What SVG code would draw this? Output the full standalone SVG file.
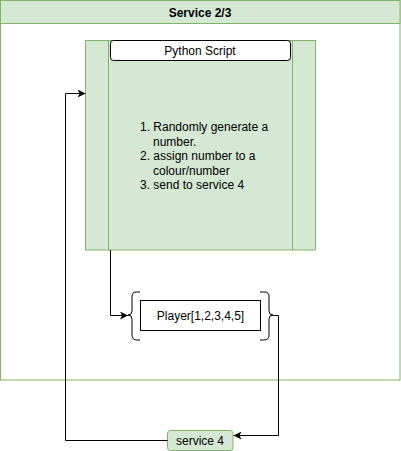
<svg xmlns="http://www.w3.org/2000/svg" width="401" height="451" viewBox="0 0 401 451">
<style>
.green{fill:#d5e8d4;stroke:#82b366;stroke-width:1}
.wbox{fill:#ffffff;stroke:#000000;stroke-width:1}
.t{font-family:"Liberation Sans",Arial,sans-serif;font-size:12px;fill:#000000}
.c{text-anchor:middle}
.edge{fill:none;stroke:#000000;stroke-width:1}
.br{fill:none;stroke:#000000;stroke-width:1}
</style>
<defs>
<marker id="arr" viewBox="0 0 10 10" refX="10" refY="5" markerWidth="8" markerHeight="8" markerUnits="userSpaceOnUse" orient="auto">
<path d="M0,0 L10,5 L0,10 L2.5,5 Z" fill="#000000"/>
</marker>
</defs>
<g id="service23">
<rect x="0.5" y="0.5" width="399.5" height="379.5" fill="#ffffff" stroke="#82b366"/>
<rect class="green" x="0.5" y="0.5" width="399.5" height="23"/>
<text class="t c" x="200" y="16.5" font-weight="bold">Service 2/3</text>
</g>
<g id="process">
<rect class="green" x="85.5" y="40.5" width="230" height="209.5"/>
<line x1="108.5" y1="40.5" x2="108.5" y2="250" stroke="#82b366"/>
<line x1="292.5" y1="40.5" x2="292.5" y2="250" stroke="#82b366"/>
<text class="t" x="140" y="131">1. Randomly generate a</text>
<text class="t" x="153" y="145.5">number.</text>
<text class="t" x="140" y="160">2. assign number to a</text>
<text class="t" x="153" y="174.5">colour/number</text>
<text class="t" x="140" y="189">3. send to service 4</text>
</g>
<g id="python-script">
<rect class="wbox" x="110.5" y="40.5" width="180" height="20" rx="3" ry="3"/>
<text class="t c" x="200" y="54.5">Python Script</text>
</g>
<g id="bracket">
<path class="br" d="M140,292 L136,292 Q132,292 132,297 L132,311 Q132,315 128,315 Q132,315 132,319 L132,335 Q132,340 137,340 L140,340"/>
<path class="br" d="M260,292 L265,292 Q269,292 269,297 L269,311 Q269,315 273,315 Q269,315 269,319 L269,335 Q269,340 264,340 L260,340"/>
</g>
<g id="player">
<rect class="wbox" x="140.5" y="300.5" width="120" height="30"/>
<text class="t c" x="200.5" y="319.5">Player[1,2,3,4,5]</text>
</g>
<g id="service4">
<rect class="green" x="167.5" y="430.5" width="65.5" height="20" rx="3" ry="3"/>
<text class="t c" x="200" y="444.5">service 4</text>
</g>
<g id="connectors">
<path class="edge" d="M110.5,250 L110.5,315.5 L128,315.5" marker-end="url(#arr)"/>
<path class="edge" d="M273,315.5 L278.5,315.5 L278.5,435.5 L233.5,435.5" marker-end="url(#arr)"/>
<path class="edge" d="M167.5,440.5 L65.5,440.5 L65.5,93.5 L85.5,93.5" marker-end="url(#arr)"/>
</g>
</svg>
